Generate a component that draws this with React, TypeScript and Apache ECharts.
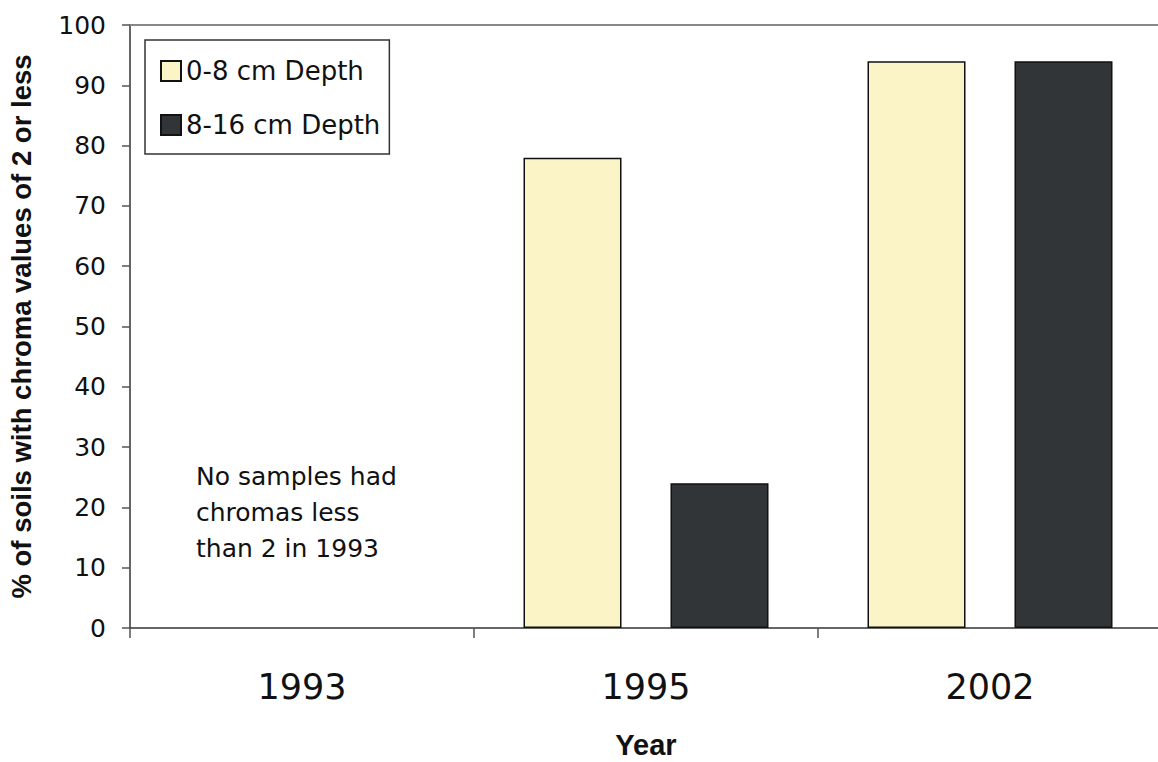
import React, { useEffect, useRef } from "react";
import * as echarts from "echarts";

const categories = ["1993", "1995", "2002"];
const shallowValues: (number | null)[] = [null, 78, 94];
const deepValues: (number | null)[] = [null, 24, 94];
const seriesNames = ["0-8 cm Depth", "8-16 cm Depth"];
const annotationLines = ["No samples had", "chromas less", "than 2 in 1993"];

export default function App() {
  const ref = useRef<HTMLDivElement>(null);
  useEffect(() => {
    if (!ref.current) return;
    const chart = echarts.init(ref.current, null, { renderer: "svg" });
    const barBorder = { borderColor: "#111", borderWidth: 1.5 };
    chart.setOption({
      animation: false,
      backgroundColor: "#fff",
      grid: { left: 130, top: 25, width: 1032, height: 603, containLabel: false, outerBoundsMode: "none" },
      legend: {
        left: 145,
        top: 40,
        orient: "vertical",
        itemWidth: 20,
        itemHeight: 20,
        itemGap: 28,
        padding: [18, 9, 16, 15],
        borderColor: "#333",
        borderWidth: 1.5,
        backgroundColor: "#fff",
        icon: "rect",
        selectedMode: false,
        textStyle: { fontFamily: "DejaVu Sans", fontSize: 26, color: "#111" },
        data: seriesNames,
      },
      xAxis: [
        {
          type: "category",
          data: categories,
          position: "bottom",
          axisLine: { lineStyle: { color: "#333", width: 1.5 } },
          axisTick: { show: true, length: 10, alignWithLabel: false, lineStyle: { color: "#555", width: 1.5 } },
          axisLabel: { fontFamily: "DejaVu Sans", fontSize: 35, color: "#111", margin: 41 },
          name: "Year",
          nameLocation: "middle",
          nameGap: 102,
          nameTextStyle: { fontFamily: "Liberation Sans", fontWeight: "bold", fontSize: 29, color: "#111" },
        },
        {
          type: "category",
          data: categories,
          position: "top",
          axisLine: { lineStyle: { color: "#888", width: 2 } },
          axisTick: { show: false },
          axisLabel: { show: false },
        },
      ],
      yAxis: {
        type: "value",
        min: 0,
        max: 100,
        interval: 10,
        axisLine: { show: true, lineStyle: { color: "#333", width: 1.5 } },
        axisTick: { show: true, length: 8, lineStyle: { color: "#555", width: 1.5 } },
        splitLine: { show: false },
        axisLabel: { fontFamily: "DejaVu Sans", fontSize: 25, color: "#111", margin: 24 },
        name: "% of soils with chroma values of 2 or less",
        nameLocation: "middle",
        nameGap: 95,
        nameTextStyle: { fontFamily: "Liberation Sans", fontWeight: "bold", fontSize: 27.5, color: "#111" },
      },
      series: [
        {
          name: seriesNames[0],
          type: "bar",
          data: shallowValues,
          barWidth: 98,
          barGap: "50%",
          itemStyle: { color: "#FAF4C6", ...barBorder },
        },
        {
          name: seriesNames[1],
          type: "bar",
          data: deepValues,
          barWidth: 98,
          barGap: "50%",
          itemStyle: { color: "#313538", ...barBorder },
        },
      ],
      graphic: [
        {
          type: "text",
          left: 196,
          top: 458,
          style: {
            text: annotationLines.join("\n"),
            fontFamily: "DejaVu Sans",
            fontSize: 25,
            lineHeight: 36,
            fill: "#111",
          },
        },
      ],
    });
    return () => chart.dispose();
  }, []);
  return (
    <div
      ref={ref}
      style={{ position: "fixed", left: 0, top: 0, width: 1158, height: 762 }}
    />
  );
}
